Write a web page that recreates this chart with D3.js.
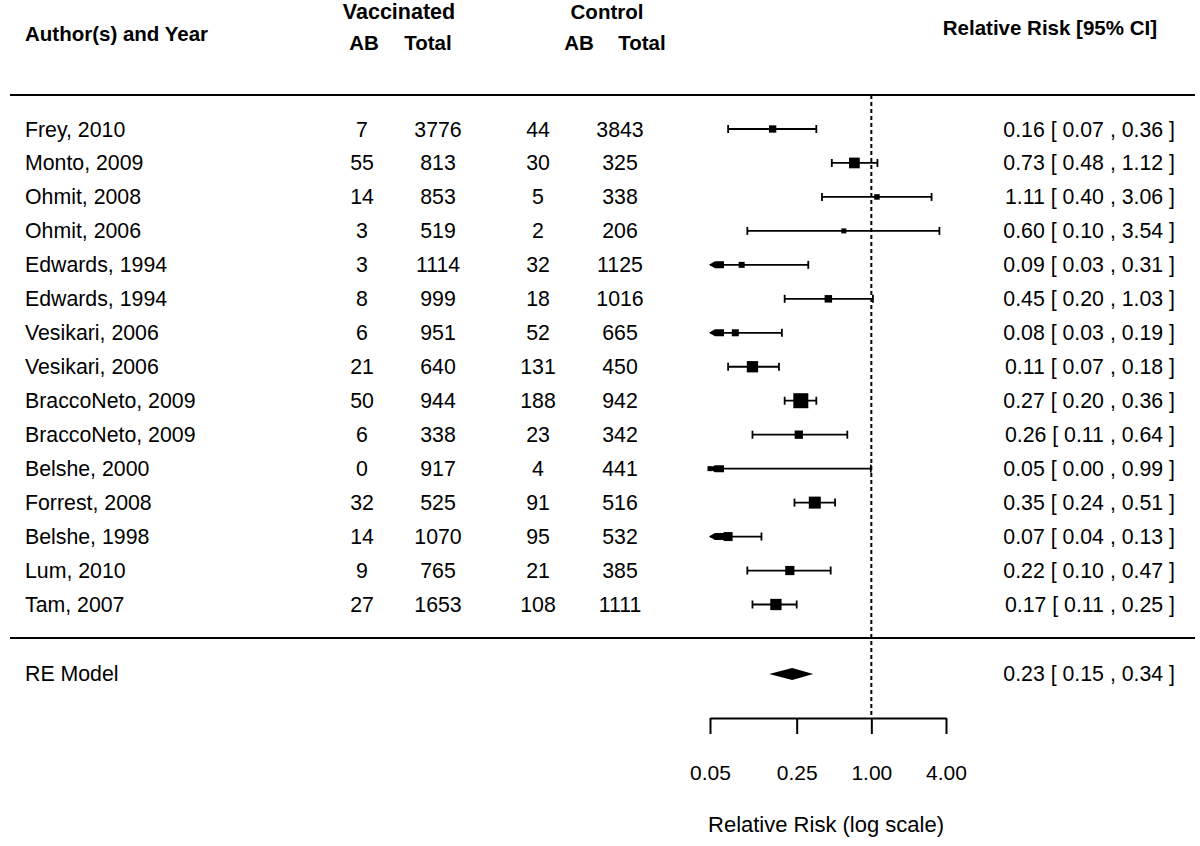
<!DOCTYPE html>
<html>
<head>
<meta charset="utf-8">
<script src="https://cdn.jsdelivr.net/npm/d3@7"></script>
<style>
  html, body { margin: 0; padding: 0; background: #fff; }
  svg { display: block; }
  text { font-family: "Liberation Sans", Arial, sans-serif; fill: #000; }
</style>
</head>
<body>
<svg id="chart" width="1200" height="846"></svg>
<script>
// ---- data ----
const authors = ["Frey, 2010","Monto, 2009","Ohmit, 2008","Ohmit, 2006","Edwards, 1994","Edwards, 1994","Vesikari, 2006","Vesikari, 2006","BraccoNeto, 2009","BraccoNeto, 2009","Belshe, 2000","Forrest, 2008","Belshe, 1998","Lum, 2010","Tam, 2007"];
const vaccAB    = [7, 55, 14, 3, 3, 8, 6, 21, 50, 6, 0, 32, 14, 9, 27];
const vaccTotal = [3776, 813, 853, 519, 1114, 999, 951, 640, 944, 338, 917, 525, 1070, 765, 1653];
const ctrlAB    = [44, 30, 5, 2, 32, 18, 52, 131, 188, 23, 4, 91, 95, 21, 108];
const ctrlTotal = [3843, 325, 338, 206, 1125, 1016, 665, 450, 942, 342, 441, 516, 532, 385, 1111];
const rr     = [0.16, 0.73, 1.11, 0.60, 0.09, 0.45, 0.08, 0.11, 0.27, 0.26, 0.05, 0.35, 0.07, 0.22, 0.17];
const ciLow  = [0.07, 0.48, 0.40, 0.10, 0.03, 0.20, 0.03, 0.07, 0.20, 0.11, 0.00, 0.24, 0.04, 0.10, 0.11];
const ciHigh = [0.36, 1.12, 3.06, 3.54, 0.31, 1.03, 0.19, 0.18, 0.36, 0.64, 0.99, 0.51, 0.13, 0.47, 0.25];
// relative precision (study weight, 0 = least, 1 = most)
const precision = [0.23, 0.57, 0.05, 0.0, 0.1, 0.25, 0.2, 0.63, 1.0, 0.33, 0.0, 0.7, 0.4, 0.42, 0.63];
const reModel = { label: "RE Model", est: 0.23, lo: 0.15, hi: 0.34 };
const tickValues = [0.05, 0.25, 1.00, 4.00];
const axisLimits = [0.05, 4.00];

// ---- layout ----
const svg = d3.select("#chart");
const k = authors.length;
const x = d3.scaleLog().domain(axisLimits).range([710, 946]);
const y = d3.scaleLinear().domain([k, 1]).range([129, 604.5]); // row k at top
const size = d3.scaleLinear().domain([0, 1]).range([5, 15]);
const fmt = d3.format(".2f");
const fs = 21.3;
const col = { author: 25, vAB: 362, vTot: 438, cAB: 538, cTot: 620, ci: 1175 };

const rows = authors.map((a, i) => ({
  author: a, vAB: vaccAB[i], vTot: vaccTotal[i], cAB: ctrlAB[i], cTot: ctrlTotal[i],
  est: rr[i], lo: ciLow[i], hi: ciHigh[i], p: precision[i], row: k - i
}));

// header
const hdr = svg.append("g").attr("font-weight", "bold").style("font-size", "20.5px");
hdr.append("text").attr("x", col.author).attr("y", 41).text("Author(s) and Year");
hdr.append("text").attr("x", 399).attr("y", 19).attr("text-anchor", "middle").style("font-size", "21.5px").text("Vaccinated");
hdr.append("text").attr("x", 607).attr("y", 19).attr("text-anchor", "middle").text("Control");
hdr.append("text").attr("x", 364).attr("y", 50).attr("text-anchor", "middle").text("AB");
hdr.append("text").attr("x", 428).attr("y", 50).attr("text-anchor", "middle").text("Total");
hdr.append("text").attr("x", 579).attr("y", 50).attr("text-anchor", "middle").text("AB");
hdr.append("text").attr("x", 642).attr("y", 50).attr("text-anchor", "middle").text("Total");
hdr.append("text").attr("x", 1157).attr("y", 35).attr("text-anchor", "end").text("Relative Risk [95% CI]");

// separator lines
svg.append("line").attr("x1", 10).attr("x2", 1195).attr("y1", 95).attr("y2", 95)
  .attr("stroke", "#000").attr("stroke-width", 2);
svg.append("line").attr("x1", 10).attr("x2", 1195).attr("y1", 638).attr("y2", 638)
  .attr("stroke", "#000").attr("stroke-width", 2);

// reference line at RR = 1
svg.append("line").attr("x1", x(1)).attr("x2", x(1)).attr("y1", 95).attr("y2", 718)
  .attr("stroke", "#000").attr("stroke-width", 2).attr("stroke-dasharray", "4,3");

// study text
const txt = svg.append("g").style("font-size", fs + "px");
const rowG = txt.selectAll("g.row").data(rows).join("g").attr("class", "row");
const ty = d => y(d.row) + 7.5;
rowG.append("text").attr("x", col.author).attr("y", ty).text(d => d.author);
rowG.append("text").attr("x", col.vAB).attr("y", ty).attr("text-anchor", "middle").text(d => d.vAB);
rowG.append("text").attr("x", col.vTot).attr("y", ty).attr("text-anchor", "middle").text(d => d.vTot);
rowG.append("text").attr("x", col.cAB).attr("y", ty).attr("text-anchor", "middle").text(d => d.cAB);
rowG.append("text").attr("x", col.cTot).attr("y", ty).attr("text-anchor", "middle").text(d => d.cTot);
rowG.append("text").attr("x", col.ci).attr("y", ty).attr("text-anchor", "end")
  .text(d => `${fmt(d.est)} [ ${fmt(d.lo)} , ${fmt(d.hi)} ]`);

// CIs
const lo = axisLimits[0], hi = axisLimits[1];
const marks = svg.append("g");
rows.forEach(d => {
  const yy = y(d.row);
  const l = Math.max(d.lo, lo), h = Math.min(d.hi, hi);
  marks.append("line").attr("x1", x(l)).attr("x2", x(h)).attr("y1", yy).attr("y2", yy)
    .attr("stroke", "#000").attr("stroke-width", 1.8);
  if (d.lo >= lo) {
    marks.append("line").attr("x1", x(d.lo)).attr("x2", x(d.lo)).attr("y1", yy - 4).attr("y2", yy + 4)
      .attr("stroke", "#000").attr("stroke-width", 1.8);
  } else {
    const x0 = x(lo);
    marks.append("path")
      .attr("d", `M${x0 - 1},${yy} L${x0 + 5},${yy - 3.5} L${x0 + 14},${yy - 3.5} L${x0 + 14},${yy + 3.5} L${x0 + 5},${yy + 3.5} Z`)
      .attr("fill", "#000");
  }
  if (d.hi <= hi) {
    marks.append("line").attr("x1", x(d.hi)).attr("x2", x(d.hi)).attr("y1", yy - 4).attr("y2", yy + 4)
      .attr("stroke", "#000").attr("stroke-width", 1.8);
  }
  const s = size(d.p);
  marks.append("rect").attr("x", x(Math.max(d.est, lo)) - s / 2).attr("y", yy - s / 2)
    .attr("width", s).attr("height", s).attr("fill", "#000");
});

// RE model
const yRE = y(-1) + 1.5;
svg.append("text").attr("x", col.author).attr("y", yRE + 7.5).style("font-size", fs + "px").text(reModel.label);
svg.append("text").attr("x", col.ci).attr("y", yRE + 7.5).attr("text-anchor", "end").style("font-size", fs + "px")
  .text(`${fmt(reModel.est)} [ ${fmt(reModel.lo)} , ${fmt(reModel.hi)} ]`);
svg.append("path")
  .attr("d", `M${x(reModel.lo)},${yRE} L${x(reModel.est)},${yRE - 6} L${x(reModel.hi)},${yRE} L${x(reModel.est)},${yRE + 6} Z`)
  .attr("fill", "#000");

// axis
const axis = d3.axisBottom(x).tickValues(tickValues).tickFormat(fmt).tickSize(16).tickSizeOuter(0).tickPadding(31);
const ag = svg.append("g").attr("transform", "translate(0,718)").call(axis);
ag.select(".domain").attr("stroke-width", 2);
ag.selectAll(".tick line").attr("stroke-width", 2);
ag.selectAll(".tick text").style("font-size", "21px").attr("font-family", "Liberation Sans, Arial, sans-serif");

svg.append("text").attr("x", 826).attr("y", 832).attr("text-anchor", "middle")
  .style("font-size", "22px").text("Relative Risk (log scale)");
</script>
</body>
</html>
